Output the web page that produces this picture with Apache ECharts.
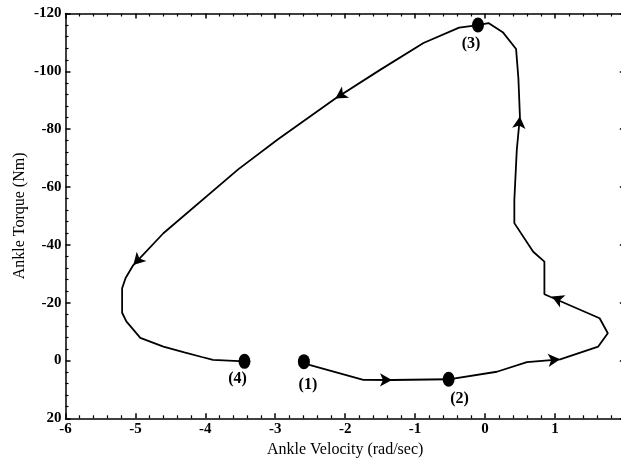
<!DOCTYPE html>
<html>
<head>
<meta charset="utf-8">
<script src="https://cdn.jsdelivr.net/npm/echarts@6/dist/echarts.min.js"></script>
<style>
  html, body { margin: 0; padding: 0; background: #fff; }
  #chart { width: 621px; height: 460px; }
</style>
</head>
<body>
<div id="chart"></div>
<script>
// Ankle velocity (rad/sec) and ankle torque (Nm) along the loop, in travel order from (1) to (4)
const velocity = [
  -2.59, -2.50, -1.74, -1.33, -0.52, 0.17, 0.60, 1.075, 1.62, 1.757,
  1.64, 0.85, 0.85, 0.69, 0.42, 0.42, 0.455, 0.50, 0.478, 0.445,
  0.26, 0.05, -0.10, -0.37, -0.88, -1.50, -2.14, -2.96, -3.53, -4.60,
  -5.03, -5.14, -5.19, -5.19, -5.13, -4.93, -4.60, -4.30, -4.05, -3.89,
  -3.44
];
const torque = [
  0.4, 1.6, 6.7, 6.75, 6.5, 3.9, 0.6, -0.4, -4.8, -9.4,
  -14.6, -22.9, -34.2, -37.6, -47.5, -55.5, -72.8, -84.4, -97.6, -107.7,
  -113.4, -116.7, -116.0, -115.1, -109.8, -100.5, -90.6, -76.5, -66.1, -44.0,
  -33.0, -28.5, -25.0, -16.5, -13.5, -7.8, -4.8, -2.8, -1.2, -0.2,
  0.3
];

// Marked gait events
const stageVelocity = [-2.59, -0.52, -0.10, -3.44];
const stageTorque = [0.4, 6.5, -116.0, 0.3];
const stageNames = ['(1)', '(2)', '(3)', '(4)'];

// Direction arrows placed on the loop
const arrowVelocity = [-1.33, 1.075, 0.955, 0.50, -2.14, -5.03];
const arrowTorque = [6.75, -0.4, -22.1, -84.4, -90.6, -33.0];

// Axis ranges
const xMin = -6, xMax = 2, xStep = 1;
const yMin = -120, yMax = 20, yStep = 20;

const serif = '"Liberation Serif", "Times New Roman", serif';
const labelOffsets = [[4, 23], [11, 20], [-7, 19], [-7, 18]];

function frameAxis(extra) {
  return Object.assign({
    type: 'value',
    axisLine: { show: true, onZero: false, lineStyle: { color: '#000', width: 1.5 } },
    axisTick: { show: true, inside: true, length: 5, lineStyle: { color: '#000', width: 1.5 } },
    minorTick: { show: true, splitNumber: 5, length: 3, lineStyle: { color: '#000', width: 1.2 } },
    splitLine: { show: false },
    minorSplitLine: { show: false }
  }, extra);
}

const tickLabel = { color: '#000', fontFamily: serif, fontWeight: 'bold', fontSize: 15 };
const nameStyle = { color: '#000', fontFamily: serif, fontSize: 16 };

const chart = echarts.init(document.getElementById('chart'), null, { renderer: 'canvas' });

const option = {
  backgroundColor: '#fff',
  animation: false,
  grid: { left: 65.5, top: 13.5, width: 559.3, height: 404.8, outerBoundsMode: 'none' },
  xAxis: [
    frameAxis({
      min: xMin, max: xMax, interval: xStep, position: 'bottom',
      axisLabel: Object.assign({ margin: 3, showMaxLabel: false }, tickLabel),
      name: 'Ankle Velocity (rad/sec)', nameLocation: 'middle', nameGap: 23,
      nameTextStyle: nameStyle
    }),
    frameAxis({
      min: xMin, max: xMax, interval: xStep, position: 'top',
      axisLabel: { show: false }
    })
  ],
  yAxis: [
    frameAxis({
      min: yMin, max: yMax, interval: yStep, inverse: true, position: 'left',
      axisLabel: Object.assign({ margin: 4 }, tickLabel),
      name: 'Ankle Torque (Nm)', nameLocation: 'middle', nameGap: 38,
      nameMoveOverlap: false,
      nameTextStyle: nameStyle
    }),
    frameAxis({
      min: yMin, max: yMax, interval: yStep, inverse: true, position: 'right',
      axisLabel: { show: false }
    })
  ],
  series: [
    {
      id: 'loop',
      type: 'line',
      data: velocity.map((v, i) => [v, torque[i]]),
      showSymbol: false,
      symbol: 'none',
      lineStyle: { color: '#000', width: 1.8 },
      z: 2
    },
    {
      id: 'stages',
      type: 'scatter',
      data: stageVelocity.map((v, i) => ({
        value: [v, stageTorque[i]],
        name: stageNames[i],
        label: { offset: labelOffsets[i] }
      })),
      symbol: 'circle',
      symbolSize: [12, 15],
      itemStyle: { color: '#000', opacity: 1 },
      label: {
        show: true,
        position: 'inside',
        formatter: p => p.name,
        color: '#000',
        fontFamily: serif,
        fontWeight: 'bold',
        fontSize: 16
      },
      z: 4
    },
    {
      id: 'arrows',
      type: 'scatter',
      data: arrowVelocity.map((v, i) => [v, arrowTorque[i]]),
      symbol: 'arrow',
      symbolSize: [10, 12],
      itemStyle: { color: '#000', opacity: 1 },
      z: 3
    }
  ]
};

chart.setOption(option);

// Turn each arrow to follow the loop segment it sits on
const toPx = (x, y) => chart.convertToPixel({ xAxisIndex: 0, yAxisIndex: 0 }, [x, y]);
const loopPx = velocity.map((v, i) => toPx(v, torque[i]));
const rotations = arrowVelocity.map((v, k) => {
  const p = toPx(v, arrowTorque[k]);
  let best = Infinity, dir = [1, 0];
  for (let i = 0; i < loopPx.length - 1; i++) {
    const a = loopPx[i], b = loopPx[i + 1];
    const dx = b[0] - a[0], dy = b[1] - a[1];
    const len2 = dx * dx + dy * dy || 1;
    let t = ((p[0] - a[0]) * dx + (p[1] - a[1]) * dy) / len2;
    t = Math.max(0, Math.min(1, t));
    const d = Math.hypot(a[0] + t * dx - p[0], a[1] + t * dy - p[1]);
    if (d < best - 1e-6) { best = d; dir = [dx, dy]; }
  }
  return Math.atan2(-dir[0], -dir[1]) * 180 / Math.PI;
});

chart.setOption({
  series: [{
    id: 'arrows',
    data: arrowVelocity.map((v, k) => ({ value: [v, arrowTorque[k]], symbolRotate: rotations[k] }))
  }]
});
</script>
</body>
</html>
